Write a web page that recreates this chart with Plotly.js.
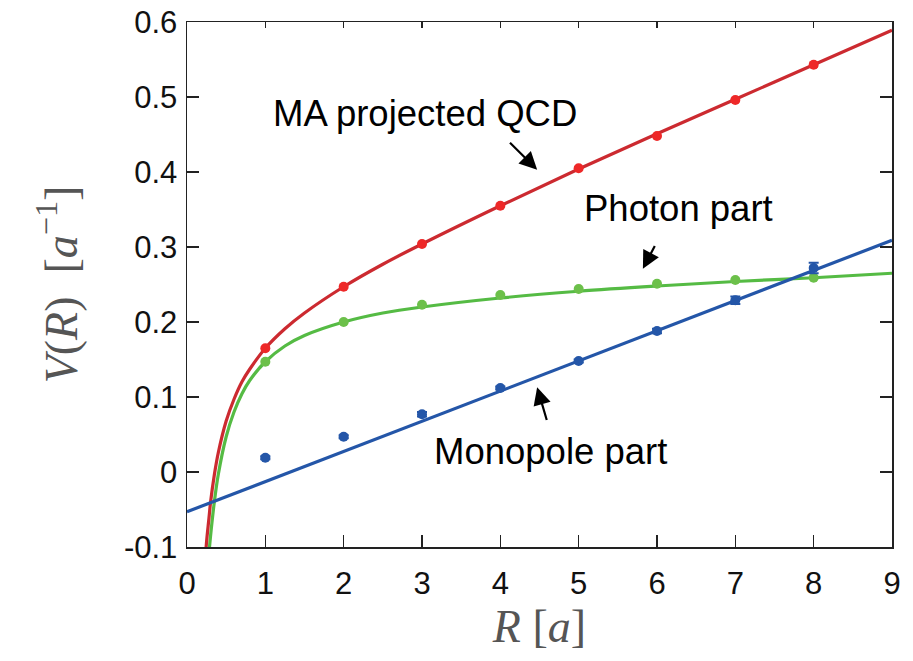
<!DOCTYPE html>
<html>
<head>
<meta charset="utf-8">
<script src="https://cdn.plot.ly/plotly-3.0.1.min.js"></script>
<style>html,body{margin:0;padding:0;background:#fff;}#chart{width:913px;height:661px;}</style>
</head>
<body>
<div id="chart"></div>
<script>
// Lattice data points
const R_points = [1, 2, 3, 4, 5, 6, 7, 8];
const qcd_values = [0.165, 0.247, 0.304, 0.355, 0.405, 0.448, 0.496, 0.543];
const qcd_errors = [0.001, 0.001, 0.001, 0.001, 0.001, 0.002, 0.002, 0.003];
const photon_values = [0.147, 0.200, 0.223, 0.236, 0.244, 0.251, 0.256, 0.259];
const photon_errors = [0.001, 0.001, 0.001, 0.001, 0.001, 0.001, 0.002, 0.002];
const monopole_values = [0.019, 0.047, 0.077, 0.112, 0.148, 0.188, 0.229, 0.272];
const monopole_errors = [0.002, 0.002, 0.003, 0.002, 0.002, 0.003, 0.005, 0.007];

// Fitted curves
const R_curve = [0.22, 0.25, 0.28, 0.3, 0.35, 0.4, 0.5, 0.6, 0.7, 0.8, 1.0, 1.25, 1.5, 2, 2.5, 3, 4, 5, 6, 7, 8, 9];
const qcd_curve = [-0.135, -0.093, -0.062, -0.041, -0.003, 0.026, 0.068, 0.097, 0.120, 0.137, 0.165, 0.191, 0.212, 0.247, 0.277, 0.304, 0.355, 0.404, 0.451, 0.497, 0.543, 0.589];
const photon_curve = [-0.200, -0.152, -0.109, -0.086, -0.039, -0.003, 0.047, 0.080, 0.104, 0.122, 0.147, 0.168, 0.182, 0.200, 0.212, 0.220, 0.232, 0.241, 0.248, 0.254, 0.259, 0.265];
const R_line = [0, 9];
const monopole_line = [-0.053, 0.309];

const x_ticks = [0, 1, 2, 3, 4, 5, 6, 7, 8, 9];
const y_ticks = [-0.1, 0, 0.1, 0.2, 0.3, 0.4, 0.5, 0.6];
const y_tick_labels = ['-0.1', '0', '0.1', '0.2', '0.3', '0.4', '0.5', '0.6'];

const labels = ['MA projected QCD', 'Photon part', 'Monopole part'];

const RED_LINE = '#cc2a30', RED_MK = '#ee2828';
const GRN_LINE = '#55bb44', GRN_MK = '#6cc04a';
const BLU = '#2456a8';

const traces = [
  {x: R_curve, y: photon_curve, mode: 'lines', line: {color: GRN_LINE, width: 3.2, shape: 'spline'}, hoverinfo: 'skip'},
  {x: R_curve, y: qcd_curve, mode: 'lines', line: {color: RED_LINE, width: 3.2, shape: 'spline'}, hoverinfo: 'skip'},
  {x: R_line, y: monopole_line, mode: 'lines', line: {color: BLU, width: 3.2}, hoverinfo: 'skip'},
  {x: R_points, y: photon_values, mode: 'markers', marker: {color: GRN_MK, size: 10},
   error_y: {type: 'data', array: photon_errors, color: GRN_MK, thickness: 2, width: 4}},
  {x: R_points, y: qcd_values, mode: 'markers', marker: {color: RED_MK, size: 10},
   error_y: {type: 'data', array: qcd_errors, color: RED_MK, thickness: 2, width: 4}},
  {x: R_points, y: monopole_values, mode: 'markers', marker: {color: BLU, size: 10},
   error_y: {type: 'data', array: monopole_errors, color: BLU, thickness: 2, width: 5}},
  {x: [0, 9], y: [-0.2, -0.2], xaxis: 'x2', mode: 'lines', line: {width: 0}, showlegend: false, hoverinfo: 'skip'}
];

const tickFont = {family: 'Liberation Sans, Arial, sans-serif', size: 31, color: '#111'};
const titleFont = {family: 'Liberation Serif, Times New Roman, serif', size: 46, color: '#555'};
const annFont = {family: 'Liberation Sans, Arial, sans-serif', size: 36.5, color: '#000'};

function arrow(hx, hy, tx, ty) {
  return {x: hx, y: hy, ax: tx, ay: ty, xref: 'x', yref: 'y', axref: 'x', ayref: 'y',
          text: ' ', showarrow: true, arrowhead: 2, arrowsize: 1.6, arrowwidth: 2.2, arrowcolor: '#000', standoff: 0};
}

const layout = {
  width: 913, height: 661,
  margin: {l: 187, r: 21, t: 22, b: 114},
  paper_bgcolor: '#fff', plot_bgcolor: '#fff',
  showlegend: false,
  xaxis: {
    range: [0, 9], tickvals: x_ticks, ticktext: x_ticks.map(String),
    ticks: 'inside', ticklen: 12, tickwidth: 1.5, tickcolor: '#222',
    showline: true, linecolor: '#222', linewidth: 1.5, mirror: true,
    showgrid: false, zeroline: false, tickfont: tickFont, ticklabelstandoff: 8,
    title: {text: '<i>R</i> [<i>a</i>]', font: titleFont, standoff: 6}
  },
  xaxis2: {
    range: [0, 9], overlaying: 'x', side: 'top', tickvals: x_ticks,
    ticks: 'inside', ticklen: 6, tickwidth: 1.5, tickcolor: '#222',
    showticklabels: false, showgrid: false, zeroline: false, showline: false
  },
  yaxis: {
    range: [-0.1, 0.6], tickvals: y_ticks, ticktext: y_tick_labels,
    ticks: 'inside', ticklen: 12, tickwidth: 1.5, tickcolor: '#222',
    showline: true, linecolor: '#222', linewidth: 1.5, mirror: 'ticks',
    showgrid: false, zeroline: false, tickfont: tickFont, ticklabelstandoff: 2,
    title: {text: '<i>V</i>(<i>R</i>)  [<i>a</i><sup>−1</sup>]', font: titleFont, standoff: 32}
  },
  annotations: [
    {x: 425, y: 118, xref: 'paper', yref: 'paper', text: labels[0], showarrow: false, font: annFont, xanchor: 'center', yanchor: 'middle'},
    {x: 678, y: 212, xref: 'paper', yref: 'paper', text: labels[1], showarrow: false, font: annFont, xanchor: 'center', yanchor: 'middle'},
    {x: 550, y: 455, xref: 'paper', yref: 'paper', text: labels[2], showarrow: false, font: annFont, xanchor: 'center', yanchor: 'middle'},
    arrow(4.47, 0.403, 4.085, 0.443),
    arrow(5.82, 0.271, 6.01, 0.309),
    arrow(4.47, 0.113, 4.63, 0.056)
  ]
};

// convert pixel positions of text labels into paper coordinates
const plotW = 913 - 187 - 21, plotH = 661 - 22 - 114;
layout.annotations.slice(0, 3).forEach(a => {
  const px = a.x, py = a.y;
  a.x = (px - 187) / plotW;
  a.y = 1 - (py - 22) / plotH;
  a.yshift = 4;
});

Plotly.newPlot('chart', traces, layout, {staticPlot: true, displayModeBar: false});
</script>
</body>
</html>
